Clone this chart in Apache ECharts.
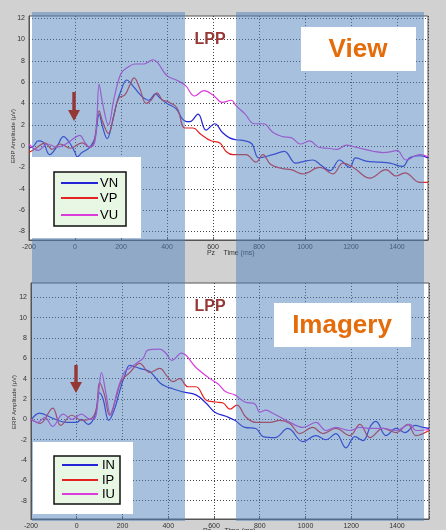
<!DOCTYPE html>
<html><head><meta charset="utf-8">
<script src="https://cdn.jsdelivr.net/npm/echarts@6/dist/echarts.min.js"></script>
<style>html,body{margin:0;padding:0;background:#d1d1d1;}#c{width:446px;height:530px;}</style>
</head><body><div id="c"></div>
<script>
// ---- Top panel (View) ----
const vnT = [-200,-180,-160,-140,-110,-80,-50,-20,0,10,30,60,80,90,105,120,140,160,180,200,225,250,280,300,320,350,370,400,440,465,485,500,535,570,608,640,670,700,740,770,800,860,910,960,1000,1035,1070,1110,1150,1195,1220,1265,1325,1370,1425,1455,1500,1535];
const vnV = [-0.2,0.0,0.5,0.4,-0.8,-0.1,0.9,0.2,-0.6,-1.0,-0.6,-0.2,0.4,1.1,3.0,1.8,0.7,2.0,3.9,5.2,6.2,5.7,4.9,4.5,4.3,4.9,4.5,4.0,3.5,2.6,2.3,2.3,3.0,1.5,2.1,1.3,0.8,0.6,0.5,0.2,-1.1,-0.8,-0.5,-1.6,-1.4,-1.3,-1.8,-2.3,-1.3,-2.0,-1.1,-1.4,-1.5,-1.6,-1.9,-1.1,-0.9,-1.1];
const vpT = [-200,-170,-130,-100,-65,-20,30,65,80,90,105,120,145,170,190,217,240,257,280,310,330,357,380,400,443,478,513,548,591,630,657,687,743,787,817,850,900,940,990,1065,1122,1165,1210,1283,1352,1396,1435,1500,1535];
const vpV = [-0.6,-0.2,0.3,-0.3,0.2,-0.2,0.3,-0.1,0.2,1.3,3.3,2.3,1.2,3.0,4.5,4.8,5.8,6.4,5.5,4.0,4.3,5.0,4.3,4.2,3.6,1.7,1.7,1.1,0.5,0.3,-0.5,-0.8,-0.8,-1.5,-0.8,-1.7,-2.1,-2.2,-2.6,-2.0,-2.6,-1.6,-2.0,-3.0,-2.2,-2.8,-2.5,-3.4,-3.4];
const vuT = [-200,-160,-120,-80,-40,0,20,45,65,85,95,105,120,145,170,200,230,260,300,320,340,360,400,440,480,520,560,600,640,680,700,740,780,820,860,900,940,980,1020,1060,1100,1140,1180,1220,1260,1300,1340,1380,1400,1440,1480,1500,1535];
const vuV = [0.2,-0.4,0.2,-0.1,0.2,0.8,1.0,0.3,-0.1,0.3,2.5,5.8,4.0,2.0,4.5,6.8,7.4,7.7,7.7,7.9,8.1,7.8,6.6,6.2,5.7,4.7,5.2,4.8,4.1,4.3,3.8,3.0,2.1,2.1,1.3,0.9,0.8,0.2,0.5,-0.1,-0.2,-0.3,0.1,-0.1,-0.3,-0.5,-0.6,-0.5,-0.4,-1.3,-0.9,-0.8,-1.0];
// ---- Bottom panel (Imagery) ----
const inT = [-200,-162,-105,-45,0,20,50,70,85,100,115,140,165,188,210,232,275,319,363,393,420,464,521,565,604,652,691,735,783,815,866,923,989,1046,1089,1133,1177,1216,1251,1286,1308,1352,1396,1435,1479,1514,1540];
const inV = [-0.1,0.6,0.1,-0.3,-0.3,0.0,-0.5,-0.1,0.8,2.6,2.0,-0.1,1.0,2.8,4.3,5.3,5.0,4.7,3.6,3.2,3.0,2.7,2.4,1.6,0.7,0.3,-0.1,-0.8,-0.9,-1.7,-1.8,-0.9,-2.2,-1.6,-2.0,-1.4,-2.8,-1.7,-2.1,-0.6,-0.2,-1.6,-0.9,-1.3,-0.6,-0.8,-0.9];
const ipT = [-200,-160,-105,-70,-22,22,65,85,100,120,144,170,196,232,275,319,363,393,420,450,486,521,565,608,640,670,700,740,783,844,888,932,975,1032,1076,1133,1194,1238,1282,1339,1396,1448,1483,1540];
const ipV = [0.0,-0.4,1.1,-0.6,0.4,-0.1,0.1,1.0,3.6,2.5,0.4,2.0,3.8,4.6,5.5,4.6,5.0,4.3,3.7,4.0,3.2,3.2,1.9,1.7,1.6,1.0,1.4,0.2,-0.3,-0.3,-0.1,-0.4,-1.4,-0.8,-1.4,-0.9,-1.6,-0.5,-1.8,-0.9,-1.3,-0.5,-1.6,-1.1];
const iuT = [-200,-170,-140,-105,-60,-20,20,60,80,95,108,128,148,180,210,230,260,290,311,363,390,415,458,521,582,617,652,691,735,779,800,827,857,932,989,1046,1089,1133,1194,1238,1282,1339,1396,1457,1483,1540];
const iuV = [0.0,-0.3,0.2,-0.7,0.5,0.0,0.5,0.0,0.1,2.5,4.6,2.5,0.4,3.0,4.7,5.0,5.5,6.0,6.8,6.9,6.5,5.8,6.5,5.1,4.0,3.5,2.7,2.4,1.7,1.5,0.7,0.9,0.6,-0.3,-0.8,-0.3,-1.1,-0.8,-1.1,-0.8,-0.9,-0.9,-1.1,-0.5,-1.1,-1.0];

const topNames = ['VN','VP','VU'];
const botNames = ['IN','IP','IU'];
const yTicks = [-8,-6,-4,-2,0,2,4,6,8,10,12];
const colors = ['#2323d8','#e42222','#dd3cdd'];

function pairs(t, v){ return t.map((x,i)=>[x, v[i]]); }

const chart = echarts.init(document.getElementById('c'), null, {renderer:'canvas'});
const font = 'Arial, "Liberation Sans", sans-serif';
const gridLine = {color:'#444', width:1, type:[1,2]};
function xAx(idx, max){
  return {gridIndex: idx, type:'value', min:-200, max:max, interval:200,
    axisLine:{show:true, onZero:false, lineStyle:{color:'#555', width:1}},
    axisTick:{show:true, inside:true, length:3, lineStyle:{color:'#555'}},
    axisLabel:{fontSize:7, color:'#333', margin:4, fontFamily:font,
      formatter: v => (Math.abs(v % 200) < 1e-6 ? String(v) : '')},
    splitLine:{show:true, lineStyle:gridLine}};
}
function yAx(idx, min, max){
  return {gridIndex: idx, type:'value', min:min, max:max, interval:0.2,
    axisLine:{show:true, onZero:false, lineStyle:{color:'#555', width:1}},
    axisTick:{show:false},
    axisLabel:{fontSize:7, color:'#333', margin:4, fontFamily:font,
      formatter: v => { const r = Math.round(v); return (Math.abs(r - v) < 1e-6 && r % 2 === 0) ? String(r) : ''; }},
    splitLine:{show:false}};
}
function mkSeries(name, t, v, c, gi, withGrid){
  const s = {name:name, type:'line', xAxisIndex:gi, yAxisIndex:gi, data:pairs(t,v),
    showSymbol:false, smooth:0.4, lineStyle:{color:c, width:1.2}, itemStyle:{color:c}, silent:true, animation:false, z:3};
  if (withGrid) {
    s.markLine = {silent:true, symbol:'none', animation:false, label:{show:false}, lineStyle:gridLine, z:1,
      data: yTicks.map(y => ({yAxis:y}))};
  }
  return s;
}
const series = [
  mkSeries(topNames[0], vnT, vnV, colors[0], 0, true),
  mkSeries(topNames[1], vpT, vpV, colors[1], 0),
  mkSeries(topNames[2], vuT, vuV, colors[2], 0),
  mkSeries(botNames[0], inT, inV, colors[0], 1, true),
  mkSeries(botNames[1], ipT, ipV, colors[1], 1),
  mkSeries(botNames[2], iuT, iuV, colors[2], 1)
];

const blue = 'rgba(79,129,189,0.5)';
const dred = '#953735';
const orange = '#E46C0A';
function arrow(cx, y0, y1){
  const hw = 6, sw = 1.7, hh = 11;
  return {type:'polygon', z:104, shape:{points:[[cx-sw,y0],[cx+sw,y0],[cx+sw,y1-hh],[cx+hw,y1-hh],[cx,y1],[cx-hw,y1-hh],[cx-sw,y1-hh]]}, style:{fill:dred}};
}
function legendBox(x, y, w, h, names, ys, lx0, lx1, tx){
  const els = [{type:'rect', z:102, shape:{x:x, y:y, width:w, height:h}, style:{fill:'#e8f6e4', stroke:'#111', lineWidth:1.5}}];
  names.forEach((n,i)=>{
    els.push({type:'line', z:103, shape:{x1:lx0, y1:ys[i], x2:lx1, y2:ys[i]}, style:{stroke:colors[i], lineWidth:2}});
    els.push({type:'text', z:103, x:tx, y:ys[i], style:{text:n, fill:'#000', font:'13px '+font, textVerticalAlign:'middle', verticalAlign:'middle'}});
  });
  return els;
}
const ctr = {textAlign:'center', align:'center', textVerticalAlign:'middle', verticalAlign:'middle'};
function txt(x, y, s, fill, f, z, rot){
  const e = {type:'text', z:z, x:x, y:y, style:Object.assign({text:s, fill:fill, font:f}, ctr)};
  if (rot) e.rotation = rot;
  return e;
}
const graphic = [
  {type:'rect', z:100, shape:{x:32, y:12, width:153, height:509}, style:{fill:blue}},
  {type:'rect', z:100, shape:{x:236, y:12, width:188, height:509}, style:{fill:blue}},
  {type:'rect', z:101, shape:{x:32, y:157, width:109, height:81}, style:{fill:'#fff'}},
  {type:'rect', z:101, shape:{x:33, y:442, width:100, height:72}, style:{fill:'#fff'}},
  {type:'rect', z:101, shape:{x:301, y:27, width:115, height:44}, style:{fill:'#fff'}},
  {type:'rect', z:101, shape:{x:274, y:303, width:137, height:44}, style:{fill:'#fff'}},
  txt(358, 50, 'View', orange, 'bold 26px '+font, 104),
  txt(342, 326, 'Imagery', orange, 'bold 26px '+font, 104),
  txt(210, 40, 'LPP', dred, 'bold 16px '+font, 104),
  txt(210, 307, 'LPP', dred, 'bold 16px '+font, 104),
  arrow(74, 92, 121),
  arrow(76, 365, 393),
  txt(13, 136, 'ERP Amplitude (μV)', '#333', '6px '+font, 99, Math.PI/2),
  txt(14, 402, 'ERP Amplitude (μV)', '#333', '6px '+font, 99, Math.PI/2),
  txt(211, 253, 'Pz', '#333', '7px '+font, 99),
  txt(239, 253, 'Time (ms)', '#333', '7px '+font, 99),
  txt(207, 531, 'Pz', '#333', '7px '+font, 99),
  txt(240, 531, 'Time (ms)', '#333', '7px '+font, 99)
].concat(legendBox(54, 172, 72, 54, topNames, [183,198,215], 61, 98, 100))
 .concat(legendBox(54, 456, 66, 48, botNames, [465,480,494], 62, 98, 102));

chart.setOption({
  animation:false,
  backgroundColor:'#d1d1d1',
  grid:[
    {left:29, top:16, width:399, height:224, show:true, backgroundColor:'#fff', borderColor:'#555', borderWidth:1, containLabel:false},
    {left:31, top:283, width:398, height:236, show:true, backgroundColor:'#fff', borderColor:'#555', borderWidth:1, containLabel:false}
  ],
  xAxis:[xAx(0,1535), xAx(1,1540)],
  yAxis:[yAx(0,-8.8,12.2), yAx(1,-9.8,13.4)],
  series: series,
  graphic: graphic
});
</script></body></html>
